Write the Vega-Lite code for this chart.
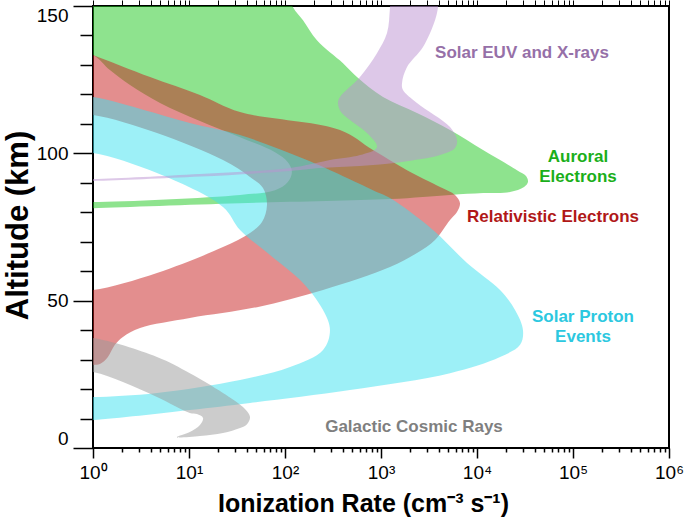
{
  "$schema": "https://vega.github.io/schema/vega-lite/v6.json",
  "width": 576,
  "height": 442,
  "autosize": {"type": "none"},
  "padding": {"left": 93, "top": 6, "right": 16, "bottom": 72},
  "background": "white",
  "config": {
    "view": {"stroke": "#000", "strokeWidth": 2},
    "font": "Liberation Sans",
    "axis": {"grid": false, "domain": false, "tickColor": "#000", "labelColor": "#000", "titleColor": "#000", "labelFont": "Liberation Sans", "titleFont": "Liberation Sans"}
  },
  "datasets": {
    "shapes": [
      {"k": "1", "i": 1, "rate": 0.5, "alt": 160},
      {"k": "1", "i": 2, "rate": 88.7, "alt": 160},
      {"k": "1", "i": 3, "rate": 121, "alt": 149.6},
      {"k": "1", "i": 4, "rate": 154, "alt": 145.2},
      {"k": "1", "i": 5, "rate": 215, "alt": 138.4},
      {"k": "1", "i": 6, "rate": 402, "alt": 130.6},
      {"k": "1", "i": 7, "rate": 562, "alt": 125.9},
      {"k": "1", "i": 8, "rate": 1050, "alt": 119.1},
      {"k": "1", "i": 9, "rate": 2371, "alt": 113.7},
      {"k": "1", "i": 10, "rate": 5234, "alt": 107.9},
      {"k": "1", "i": 11, "rate": 11550, "alt": 101.1},
      {"k": "1", "i": 12, "rate": 26100, "alt": 94.3},
      {"k": "1", "i": 13, "rate": 32400, "alt": 92.3},
      {"k": "1", "i": 14, "rate": 33960, "alt": 90.3},
      {"k": "1", "i": 15, "rate": 30900, "alt": 88.6},
      {"k": "1", "i": 16, "rate": 22080, "alt": 86.9},
      {"k": "1", "i": 17, "rate": 11550, "alt": 86.5},
      {"k": "1", "i": 18, "rate": 5234, "alt": 85.9},
      {"k": "1", "i": 19, "rate": 1241, "alt": 84.5},
      {"k": "1", "i": 20, "rate": 34, "alt": 83.1},
      {"k": "1", "i": 21, "rate": 1, "alt": 81.4},
      {"k": "1", "i": 22, "rate": 0.5, "alt": 81.0},
      {"k": "1", "i": 23, "rate": 0.5, "alt": 83.8},
      {"k": "1", "i": 24, "rate": 1, "alt": 83.5},
      {"k": "1", "i": 25, "rate": 34, "alt": 85.9},
      {"k": "1", "i": 26, "rate": 78.7, "alt": 87.5},
      {"k": "1", "i": 27, "rate": 107, "alt": 90.3},
      {"k": "1", "i": 28, "rate": 118, "alt": 93.7},
      {"k": "1", "i": 29, "rate": 107, "alt": 97.0},
      {"k": "1", "i": 30, "rate": 78.7, "alt": 100.4},
      {"k": "1", "i": 31, "rate": 34, "alt": 105.5},
      {"k": "1", "i": 32, "rate": 13.0, "alt": 111.0},
      {"k": "1", "i": 33, "rate": 4.99, "alt": 117.1},
      {"k": "1", "i": 34, "rate": 2.43, "alt": 123.2},
      {"k": "1", "i": 35, "rate": 1.5, "alt": 128.3},
      {"k": "1", "i": 36, "rate": 1, "alt": 133.4},
      {"k": "1", "i": 37, "rate": 0.5, "alt": 136},

      {"k": "2", "i": 1, "rate": 0.5, "alt": 137},
      {"k": "2", "i": 2, "rate": 1, "alt": 133.4},
      {"k": "2", "i": 3, "rate": 3.93, "alt": 125.9},
      {"k": "2", "i": 4, "rate": 13.0, "alt": 119.8},
      {"k": "2", "i": 5, "rate": 34.0, "alt": 114.0},
      {"k": "2", "i": 6, "rate": 374, "alt": 107.9},
      {"k": "2", "i": 7, "rate": 825, "alt": 101.1},
      {"k": "2", "i": 8, "rate": 1866, "alt": 94.3},
      {"k": "2", "i": 9, "rate": 4120, "alt": 88.6},
      {"k": "2", "i": 10, "rate": 5900, "alt": 85.9},
      {"k": "2", "i": 11, "rate": 6652, "alt": 83.1},
      {"k": "2", "i": 12, "rate": 6190, "alt": 80.1},
      {"k": "2", "i": 13, "rate": 5234, "alt": 77.4},
      {"k": "2", "i": 14, "rate": 3652, "alt": 70.6},
      {"k": "2", "i": 15, "rate": 2371, "alt": 66.2},
      {"k": "2", "i": 16, "rate": 1241, "alt": 61.4},
      {"k": "2", "i": 17, "rate": 249, "alt": 53.6},
      {"k": "2", "i": 18, "rate": 51.1, "alt": 47.8},
      {"k": "2", "i": 19, "rate": 10.2, "alt": 44.1},
      {"k": "2", "i": 20, "rate": 3.09, "alt": 40.7},
      {"k": "2", "i": 21, "rate": 2.05, "alt": 37.7},
      {"k": "2", "i": 22, "rate": 1.69, "alt": 35.0},
      {"k": "2", "i": 23, "rate": 1.43, "alt": 30.9},
      {"k": "2", "i": 24, "rate": 1.18, "alt": 28.5},
      {"k": "2", "i": 25, "rate": 1, "alt": 28.2},
      {"k": "2", "i": 26, "rate": 0.5, "alt": 28.2},
      {"k": "2", "i": 27, "rate": 0.5, "alt": 53.6},
      {"k": "2", "i": 28, "rate": 1, "alt": 53.6},
      {"k": "2", "i": 29, "rate": 4.64, "alt": 59.4},
      {"k": "2", "i": 30, "rate": 22.6, "alt": 68.2},
      {"k": "2", "i": 31, "rate": 43.2, "alt": 73.0},
      {"k": "2", "i": 32, "rate": 57.6, "alt": 76.7},
      {"k": "2", "i": 33, "rate": 64.9, "alt": 82.5},
      {"k": "2", "i": 34, "rate": 59.0, "alt": 88.2},
      {"k": "2", "i": 35, "rate": 43.2, "alt": 92.0},
      {"k": "2", "i": 36, "rate": 22.6, "alt": 97.7},
      {"k": "2", "i": 37, "rate": 4.64, "alt": 106.9},
      {"k": "2", "i": 38, "rate": 1, "alt": 113.0},
      {"k": "2", "i": 39, "rate": 0.5, "alt": 113.0},

      {"k": "3", "i": 1, "rate": 0.5, "alt": 119.5},
      {"k": "3", "i": 2, "rate": 1, "alt": 119.1},
      {"k": "3", "i": 3, "rate": 10.2, "alt": 110.3},
      {"k": "3", "i": 4, "rate": 34.0, "alt": 106.2},
      {"k": "3", "i": 5, "rate": 169, "alt": 97.7},
      {"k": "3", "i": 6, "rate": 825, "alt": 87.5},
      {"k": "3", "i": 7, "rate": 1241, "alt": 84.8},
      {"k": "3", "i": 8, "rate": 3481, "alt": 74.0},
      {"k": "3", "i": 9, "rate": 7870, "alt": 62.8},
      {"k": "3", "i": 10, "rate": 17380, "alt": 53.6},
      {"k": "3", "i": 11, "rate": 24900, "alt": 46.8},
      {"k": "3", "i": 12, "rate": 30130, "alt": 40.0},
      {"k": "3", "i": 13, "rate": 28100, "alt": 35.0},
      {"k": "3", "i": 14, "rate": 17380, "alt": 30.9},
      {"k": "3", "i": 15, "rate": 5234, "alt": 25.4},
      {"k": "3", "i": 16, "rate": 475, "alt": 19.7},
      {"k": "3", "i": 17, "rate": 43.2, "alt": 15.3},
      {"k": "3", "i": 18, "rate": 10.2, "alt": 12.9},
      {"k": "3", "i": 19, "rate": 1, "alt": 9.5},
      {"k": "3", "i": 20, "rate": 0.5, "alt": 9.3},
      {"k": "3", "i": 21, "rate": 0.5, "alt": 17.5},
      {"k": "3", "i": 22, "rate": 1, "alt": 17.3},
      {"k": "3", "i": 23, "rate": 4.64, "alt": 18.7},
      {"k": "3", "i": 24, "rate": 34, "alt": 23.1},
      {"k": "3", "i": 25, "rate": 113, "alt": 27.5},
      {"k": "3", "i": 26, "rate": 249, "alt": 33.3},
      {"k": "3", "i": 27, "rate": 294, "alt": 40.0},
      {"k": "3", "i": 28, "rate": 249, "alt": 46.8},
      {"k": "3", "i": 29, "rate": 154, "alt": 56.0},
      {"k": "3", "i": 30, "rate": 69.8, "alt": 65.5},
      {"k": "3", "i": 31, "rate": 34, "alt": 74.0},
      {"k": "3", "i": 32, "rate": 22.6, "alt": 81.8},
      {"k": "3", "i": 33, "rate": 4.64, "alt": 93.3},
      {"k": "3", "i": 34, "rate": 1, "alt": 100.1},
      {"k": "3", "i": 35, "rate": 0.5, "alt": 100.3},

      {"k": "4", "i": 1, "rate": 0.5, "alt": 37.5},
      {"k": "4", "i": 2, "rate": 1, "alt": 37.3},
      {"k": "4", "i": 3, "rate": 4.64, "alt": 30.9},
      {"k": "4", "i": 4, "rate": 10.2, "alt": 25.4},
      {"k": "4", "i": 5, "rate": 22.6, "alt": 18.7},
      {"k": "4", "i": 6, "rate": 36.5, "alt": 13.9},
      {"k": "4", "i": 7, "rate": 43.2, "alt": 10.5},
      {"k": "4", "i": 8, "rate": 40.2, "alt": 8.1},
      {"k": "4", "i": 9, "rate": 34.0, "alt": 6.8},
      {"k": "4", "i": 10, "rate": 22.6, "alt": 5.1},
      {"k": "4", "i": 11, "rate": 13.0, "alt": 4.1},
      {"k": "4", "i": 12, "rate": 7.5, "alt": 3.7},
      {"k": "4", "i": 13, "rate": 10.2, "alt": 5.4},
      {"k": "4", "i": 14, "rate": 13.0, "alt": 7.8},
      {"k": "4", "i": 15, "rate": 14.0, "alt": 10.2},
      {"k": "4", "i": 16, "rate": 12.1, "alt": 11.5},
      {"k": "4", "i": 17, "rate": 10.2, "alt": 11.9},
      {"k": "4", "i": 18, "rate": 4.64, "alt": 17.3},
      {"k": "4", "i": 19, "rate": 2.05, "alt": 22.4},
      {"k": "4", "i": 20, "rate": 1, "alt": 25.8},
      {"k": "4", "i": 21, "rate": 0.5, "alt": 26.0},

      {"k": "5", "i": 1, "rate": 1303, "alt": 161},
      {"k": "5", "i": 2, "rate": 1241, "alt": 149.6},
      {"k": "5", "i": 3, "rate": 1155, "alt": 140.8},
      {"k": "5", "i": 4, "rate": 908, "alt": 134.0},
      {"k": "5", "i": 5, "rate": 604, "alt": 125.9},
      {"k": "5", "i": 6, "rate": 374, "alt": 119.1},
      {"k": "5", "i": 7, "rate": 356, "alt": 117.1},
      {"k": "5", "i": 8, "rate": 383, "alt": 114.0},
      {"k": "5", "i": 9, "rate": 475, "alt": 111.3},
      {"k": "5", "i": 10, "rate": 714, "alt": 106.9},
      {"k": "5", "i": 11, "rate": 908, "alt": 102.1},
      {"k": "5", "i": 12, "rate": 604, "alt": 99.4},
      {"k": "5", "i": 13, "rate": 294, "alt": 97.7},
      {"k": "5", "i": 14, "rate": 113, "alt": 95.0},
      {"k": "5", "i": 15, "rate": 13.0, "alt": 93.0},
      {"k": "5", "i": 16, "rate": 1, "alt": 91.3},
      {"k": "5", "i": 17, "rate": 0.5, "alt": 91.3},
      {"k": "5", "i": 18, "rate": 0.5, "alt": 90.6},
      {"k": "5", "i": 19, "rate": 1, "alt": 90.6},
      {"k": "5", "i": 20, "rate": 13.0, "alt": 92.1},
      {"k": "5", "i": 21, "rate": 113, "alt": 94.0},
      {"k": "5", "i": 22, "rate": 232, "alt": 95.0},
      {"k": "5", "i": 23, "rate": 604, "alt": 95.7},
      {"k": "5", "i": 24, "rate": 1577, "alt": 97.0},
      {"k": "5", "i": 25, "rate": 4120, "alt": 99.4},
      {"k": "5", "i": 26, "rate": 5900, "alt": 101.8},
      {"k": "5", "i": 27, "rate": 6190, "alt": 104.5},
      {"k": "5", "i": 28, "rate": 5234, "alt": 108.9},
      {"k": "5", "i": 29, "rate": 2371, "alt": 117.1},
      {"k": "5", "i": 30, "rate": 1694, "alt": 121.5},
      {"k": "5", "i": 31, "rate": 1656, "alt": 123.9},
      {"k": "5", "i": 32, "rate": 1866, "alt": 129.3},
      {"k": "5", "i": 33, "rate": 2738, "alt": 136.1},
      {"k": "5", "i": 34, "rate": 3652, "alt": 145.2},
      {"k": "5", "i": 35, "rate": 3925, "alt": 149.6},
      {"k": "5", "i": 36, "rate": 4120, "alt": 159}
    ],
    "labels": [
      {"k": "5", "label": "Solar EUV and X-rays", "rate": 29400, "alt": 134.0},
      {"k": "1", "label": "Auroral", "rate": 112700, "alt": 98.7},
      {"k": "1", "label": "Electrons", "rate": 112700, "alt": 92.0},
      {"k": "2", "label": "Relativistic Electrons", "rate": 61900, "alt": 78.4},
      {"k": "3", "label": "Solar Proton", "rate": 127000, "alt": 44.5},
      {"k": "3", "label": "Events", "rate": 127000, "alt": 37.7},
      {"k": "4", "label": "Galactic Cosmic Rays", "rate": 2206, "alt": 7.1}
    ]
  },
  "layer": [
    {
      "data": {"name": "shapes"},
      "mark": {"type": "line", "filled": true, "fillOpacity": 0.5, "strokeWidth": 0, "interpolate": "catmull-rom", "clip": true},
      "encoding": {
        "x": {
          "field": "rate", "type": "quantitative",
          "scale": {"type": "log", "domain": [1, 1000000]},
          "axis": {
            "orient": "bottom",
            "values": [1,2,3,4,5,6,7,8,9,10,20,30,40,50,60,70,80,90,100,200,300,400,500,600,700,800,900,1000,2000,3000,4000,5000,6000,7000,8000,9000,10000,20000,30000,40000,50000,60000,70000,80000,90000,100000,200000,300000,400000,500000,600000,700000,800000,900000,1000000],
            "labelExpr": "datum.value === 1 ? '10⁰' : datum.value === 10 ? '10¹' : datum.value === 100 ? '10²' : datum.value === 1000 ? '10³' : datum.value === 10000 ? '10⁴' : datum.value === 100000 ? '10⁵' : datum.value === 1000000 ? '10⁶' : ''",
            "tickSize": {"condition": {"test": "datum.value === 1 || datum.value === 10 || datum.value === 100 || datum.value === 1000 || datum.value === 10000 || datum.value === 100000 || datum.value === 1000000", "value": 10}, "value": 4},
            "tickWidth": 1.5,
            "labelFontSize": 19,
            "labelPadding": 5,
            "labelFlush": false,
            "labelOverlap": false,
            "title": "Ionization Rate (cm⁻³ s⁻¹)",
            "titleFontSize": 25,
            "titleFontWeight": "bold",
            "titleX": 270,
            "titleY": 55,
            "titleBaseline": "middle",
            "titleAlign": "center"
          }
        },
        "y": {
          "field": "alt", "type": "quantitative",
          "scale": {"domain": [0, 150], "nice": false, "zero": false},
          "axis": {
            "values": [0,10,20,30,40,50,60,70,80,90,100,110,120,130,140,150],
            "labelExpr": "datum.value % 50 === 0 ? datum.label : ''",
            "tickSize": {"condition": {"test": "datum.value % 50 === 0", "value": 20}, "value": 13},
            "tickWidth": 1.5,
            "labelFontSize": 19,
            "labelPadding": 5,
            "labelFlush": true,
            "labelOverlap": false,
            "title": "Altitude (km)",
            "titleFontSize": 31,
            "titleFontWeight": "bold",
            "titleX": -75,
            "titleY": 219,
            "titleBaseline": "middle",
            "titleAlign": "center",
            "titleAngle": -90
          }
        },
        "color": {
          "field": "k", "type": "nominal",
          "scale": {"domain": ["1", "2", "3", "4", "5"], "range": ["#1EC81E", "#C81E1E", "#3CE1F0", "#999999", "#BB91D1"]},
          "legend": null
        },
        "order": {"field": "i", "type": "quantitative"}
      }
    },
    {
      "data": {"name": "labels"},
      "mark": {"type": "text", "font": "Liberation Sans", "fontWeight": "bold", "fontSize": 17, "align": "center", "baseline": "middle"},
      "encoding": {
        "x": {
          "field": "rate", "type": "quantitative",
          "scale": {"type": "log", "domain": [1, 1000000]},
          "axis": {
            "orient": "top",
            "values": [1,2,3,4,5,6,7,8,9,10,20,30,40,50,60,70,80,90,100,200,300,400,500,600,700,800,900,1000,2000,3000,4000,5000,6000,7000,8000,9000,10000,20000,30000,40000,50000,60000,70000,80000,90000,100000,200000,300000,400000,500000,600000,700000,800000,900000,1000000],
            "labels": false,
            "tickSize": 6,
            "tickWidth": 1,
            "title": null
          }
        },
        "y": {"field": "alt", "type": "quantitative", "scale": {"domain": [0, 150], "nice": false, "zero": false}, "axis": null},
        "text": {"field": "label"},
        "color": {
          "field": "k", "type": "nominal",
          "scale": {"domain": ["1", "2", "3", "4", "5"], "range": ["#1AAF1A", "#B01818", "#2CC8E0", "#7F7F7F", "#9670A8"]},
          "legend": null
        }
      }
    }
  ],
  "resolve": {"axis": {"x": "independent", "y": "independent"}, "scale": {"color": "independent"}}
}
